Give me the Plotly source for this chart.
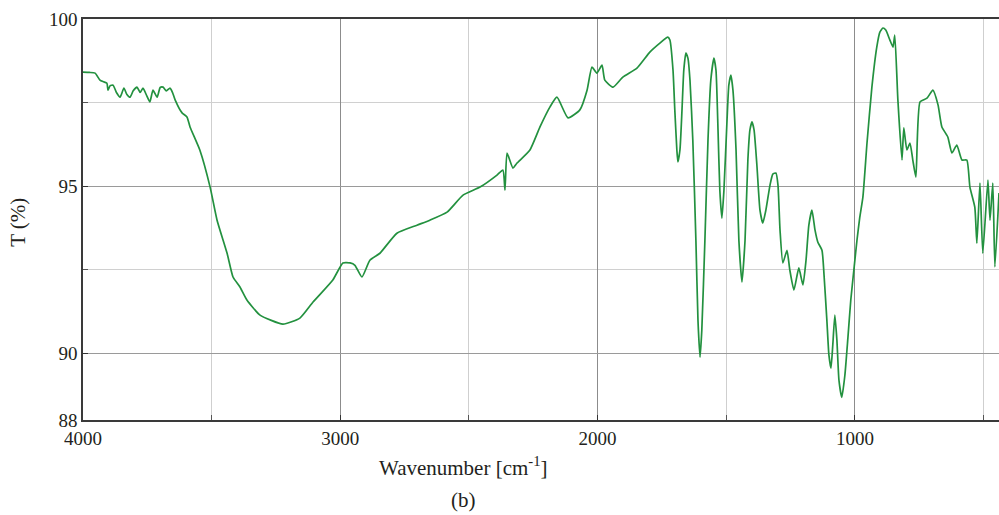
import plotly.graph_objects as go

wavenumber = [4000, 3975, 3953, 3934, 3920, 3907, 3903, 3895, 3883, 3870, 3856, 3841, 3830, 3817, 3805, 3790, 3778, 3767,
              3752, 3740, 3728, 3712, 3700, 3689, 3676, 3662, 3652,
              3642, 3615, 3596, 3584, 3546, 3506, 3479, 3440, 3417, 3390, 3363, 3312, 3223, 3157, 3106, 3029,
              2990, 2962, 2943, 2916, 2885, 2846, 2780, 2702, 2652, 2585, 2523, 2457, 2391, 2368, 2360, 2352,
              2329, 2313, 2263, 2224, 2185, 2158, 2115, 2069, 2041, 2022, 2003, 1983, 1972, 1940, 1902, 1847,
              1797, 1758, 1727,
              1719, 1707, 1700, 1692, 1688, 1680, 1672, 1665, 1657, 1649, 1641, 1630, 1618, 1610, 1602, 1595,
              1583, 1571, 1560, 1548, 1540, 1532, 1525, 1517, 1509, 1497, 1490, 1482, 1474, 1462, 1451, 1439,
              1427, 1416, 1408, 1400, 1392, 1381, 1369, 1358, 1346, 1330, 1319, 1307, 1299, 1291, 1280, 1264,
              1253, 1237, 1218, 1202, 1190, 1179, 1167, 1155, 1144, 1128, 1120, 1109, 1101, 1093, 1086, 1078,
              1070, 1062, 1051, 1039, 1027, 1016, 1004, 992, 981, 969, 953, 934, 915, 903, 891, 880, 864, 852,
              845, 833, 817, 810, 798, 786, 775, 763, 747, 720, 697, 677, 662, 639, 623, 604, 584, 565, 553,
              534, 526, 514, 503, 483, 475, 464, 456, 440]

transmittance = [98.41, 98.40, 98.38, 98.17, 98.12, 98.08, 97.87, 98.00, 98.02, 97.80, 97.66, 97.93, 97.75, 97.66, 97.85, 97.96, 97.80, 97.93,
                 97.70, 97.52, 97.87, 97.66, 97.95, 97.96, 97.85, 97.93, 97.80,
                 97.58, 97.19, 97.07, 96.77, 96.08, 94.97, 93.98, 92.99, 92.28, 91.98, 91.59, 91.14, 90.87, 91.05, 91.53, 92.19,
                 92.70, 92.70, 92.63, 92.28, 92.78, 92.99, 93.59, 93.83, 93.98, 94.22, 94.73, 94.97, 95.33, 95.48, 94.88, 95.99,
                 95.54, 95.69, 96.08, 96.77, 97.37, 97.66, 97.04, 97.28, 97.87, 98.56, 98.38, 98.62, 98.17, 97.96, 98.26, 98.53,
                 99.01, 99.28, 99.46,
                 99.37, 98.47, 97.28, 96.08, 95.72, 96.08, 97.28, 98.47, 98.98, 98.83, 98.17, 96.38, 93.38, 90.99, 89.88, 90.69,
                 93.38, 96.38, 98.17, 98.83, 98.47, 96.68, 94.88, 94.04, 94.88, 96.98, 98.02, 98.32, 97.87, 96.08, 93.38, 92.13,
                 93.38, 95.78, 96.68, 96.92, 96.68, 95.63, 94.28, 93.89, 94.28, 95.03, 95.36, 95.39, 95.03, 93.68, 92.70, 93.08,
                 92.49, 91.89, 92.55, 92.04, 92.78, 93.83, 94.28, 93.68, 93.32, 93.08, 92.34, 90.99, 89.94, 89.55, 90.24, 91.14,
                 90.39, 89.19, 88.68, 89.34, 90.48, 91.59, 92.49, 93.38, 94.07, 94.67, 96.29, 97.96, 99.16, 99.61, 99.73, 99.67, 99.37, 99.16,
                 99.52, 97.58, 95.78, 96.74, 96.08, 96.29, 95.78, 95.27, 97.52, 97.63, 97.87, 97.43, 96.77, 96.47, 95.99, 96.23, 95.78, 95.78, 94.97,
                 94.37, 93.29, 95.09, 92.99, 95.18, 93.98, 95.09, 92.58, 94.79]

x_tick_vals = [4000, 3000, 2000, 1000]
x_tick_text = ["4000", "3000", "2000", "1000"]
y_tick_vals = [88, 90, 95, 100]
y_tick_text = ["88", "90", "95", "100"]

font_family = "Liberation Serif"
text_color = "#231f20"

fig = go.Figure()
fig.add_trace(go.Scatter(
    x=wavenumber, y=transmittance, mode="lines",
    line=dict(color="#23913f", width=1.7, shape="spline", smoothing=0.5),
    hoverinfo="skip", showlegend=False,
))

fig.update_layout(
    width=999, height=515,
    margin=dict(l=83, r=0, t=19, b=95),
    paper_bgcolor="white", plot_bgcolor="white",
    font=dict(family=font_family, size=19, color=text_color),
    xaxis=dict(
        range=[4000, 440], autorange=False, automargin=False,
        tickmode="array", tickvals=x_tick_vals, ticktext=x_tick_text,
        showgrid=True, gridcolor="#8c8c8c", gridwidth=1.3,
        ticks="inside", ticklen=5, tickcolor="#333333",
        showline=True, linecolor="#3a3a3a", linewidth=1.5, mirror=True,
        zeroline=False,
        minor=dict(tickmode="linear", tick0=500, dtick=1000, showgrid=True,
                   gridcolor="#cfcfcf", gridwidth=1.3, ticks="inside", ticklen=5, tickcolor="#555555"),
        tickfont=dict(size=19),
    ),
    yaxis=dict(
        range=[88, 100], autorange=False, automargin=False,
        tickmode="array", tickvals=y_tick_vals, ticktext=y_tick_text,
        showgrid=True, gridcolor="#9a9a9a", gridwidth=1.3,
        ticks="inside", ticklen=5, tickcolor="#333333",
        showline=True, linecolor="#3a3a3a", linewidth=1.5, mirror=False,
        zeroline=False,
        minor=dict(tickmode="array", tickvals=[92.5, 97.5], showgrid=True,
                   gridcolor="#d0d0d0", gridwidth=1.3, ticks="inside", ticklen=5, tickcolor="#555555"),
        tickfont=dict(size=19),
    ),
    annotations=[
        dict(text="T (%)", xref="paper", yref="paper", textangle=-90,
             x=-0.071, y=0.494, xanchor="center", yanchor="middle", showarrow=False,
             font=dict(size=21)),
        dict(text="Wavenumber [cm<sup>-1</sup>]", xref="paper", yref="paper",
             x=0.415, y=-0.117, xanchor="center", yanchor="middle", showarrow=False,
             font=dict(size=21)),
        dict(text="(b)", xref="paper", yref="paper",
             x=0.415, y=-0.2, xanchor="center", yanchor="middle", showarrow=False,
             font=dict(size=21)),
    ],
)

fig.write_html(
    "out.html",
    config={"displayModeBar": False},
    post_script="document.body.style.margin='0';document.body.style.overflow='hidden';"
                "document.documentElement.style.overflow='hidden';",
)
